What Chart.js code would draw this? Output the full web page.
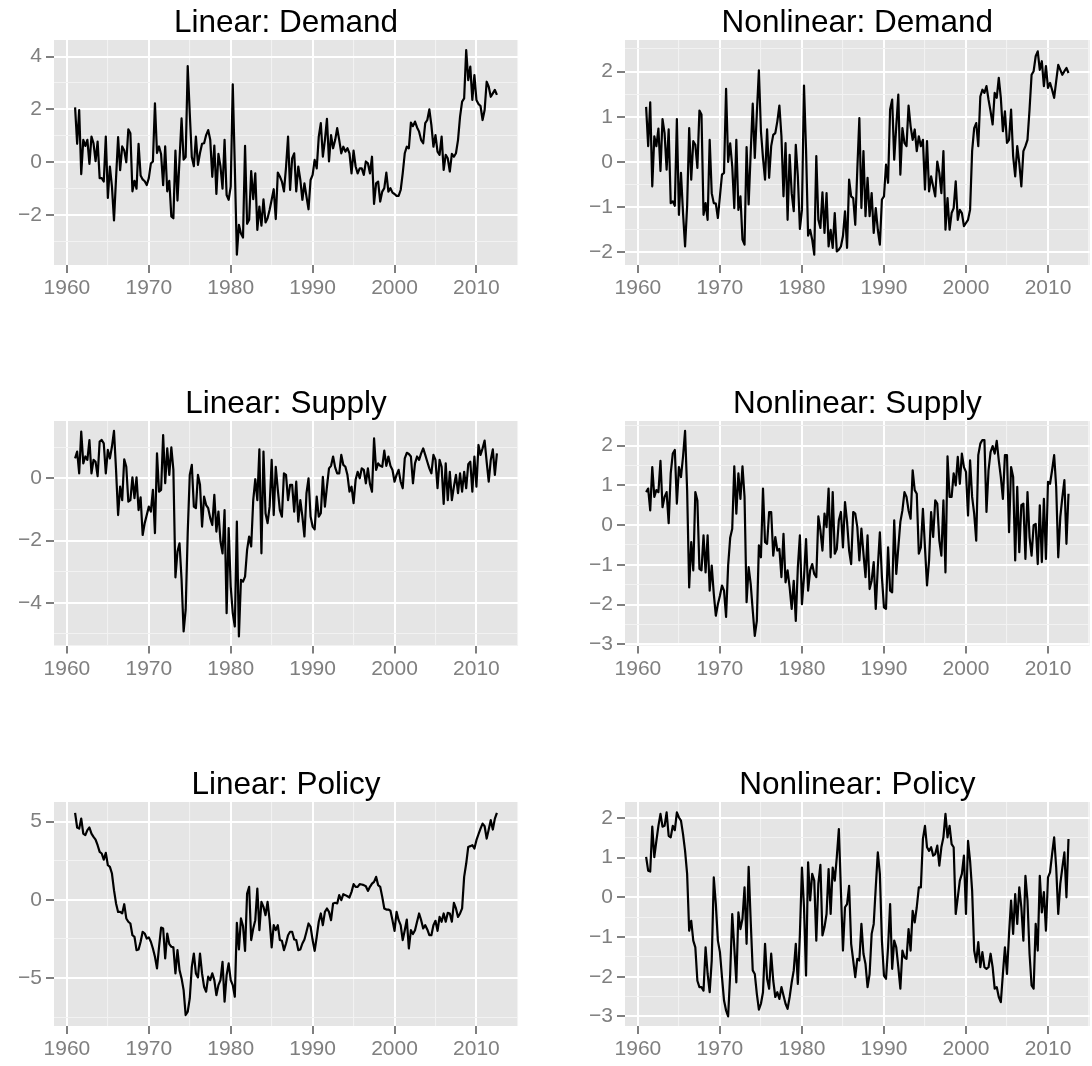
<!DOCTYPE html>
<html>
<head>
<meta charset="utf-8">
<script src="https://cdn.jsdelivr.net/npm/chart.js@4.4.1/dist/chart.umd.min.js"></script>
<style>
  html, body { margin: 0; padding: 0; background: #ffffff; }
  body { width: 1092px; height: 1066px; position: relative; overflow: hidden; }
  canvas { position: absolute; }
</style>
</head>
<body>
<script>
// Quarterly shock series, first observation 1961Q1.
const FIRST_YEAR = 1961;

const linearDemand = [
  2.08, 0.7, 1.98, -0.45, 0.85, 0.62, 0.85, -0.06, 0.97, 0.72,
  0.04, 0.78, -0.6, -0.6, -0.73, 0.97, -1.35, -0.16, -0.92, -2.2,
  -0.6, 0.95, -0.3, 0.6, 0.45, 0.0, 1.25, 1.1, -1.1, -0.7,
  -1.0, 0.7, -0.5, -0.65, -0.72, -0.86, -0.6, -0.05, 0.03, 2.23,
  0.35, 0.6, 0.3, -0.87, 0.6, -1.1, -0.7, -2.05, -2.12, 0.44,
  -1.45, 0.1, 1.66, 0.1, 0.2, 3.64, 1.85, 0.2, -0.15, 0.97,
  -0.1, 0.35, 0.7, 0.72, 1.03, 1.22, 0.85, -0.55, 0.63, -1.2,
  0.32, -0.16, -1.0, 0.85, -1.24, -1.42, -0.92, 2.95, -0.16, -3.5,
  -2.37, -2.7, -2.85, 0.62, -2.33, -2.18, -0.33, -1.4, -0.42, -2.56,
  -1.68, -2.4, -1.4, -2.28, -2.12, -1.8, -1.42, -1.02, -2.15, -0.39,
  -0.54, -0.73, -1.1, -0.2, 0.97,
  -1.05, 0.15, 0.34, -1.1, -0.16, -0.67, -1.42, -0.8, -1.3, -1.78,
  -0.67, -0.48, 0.09, -0.23, 0.97, 1.48, 0.21, 0.84, 1.64, 0.03,
  1.03, 0.53, 0.84, 1.29, 0.84, 0.34, 0.59, 0.4, 0.53, 0.34,
  -0.42, 0.44, -0.16, -0.42, -0.23, -0.23, -0.48, 0.03, -0.04, -0.42,
  0.21, -1.58, -0.8, -0.73, -1.49, -1.11, -0.98, -0.39, -1.11, -0.98,
  -1.15, -1.2, -1.27, -1.27, -1.05, -0.42, 0.34, 0.59, 0.53, 1.5,
  1.37, 1.54, 1.32, 1.16, 0.84, 0.72, 1.48, 1.6, 2.0, 1.41,
  0.59, 1.03, 0.4, 0.28, 0.97, -0.29, 0.28, 0.15, -0.35, 0.32,
  0.21, 0.34, 0.84, 1.73, 2.3, 2.42, 4.25, 3.11, 3.62, 2.36,
  3.3, 2.36, 2.21, 2.13, 1.6, 1.98, 3.05, 2.86, 2.48, 2.61,
  2.74, 2.55
];

const nonlinearDemand = [
  1.22, 0.35, 1.32, -0.54, 0.57, 0.35, 0.74, -0.2, 0.95, 0.64,
  -0.17, 0.72, -0.91, -0.87, -0.97, 0.95, -1.17, -0.24, -1.13, -1.87,
  -0.98, 0.75, -0.39, 0.46, 0.38, -0.13, 1.14, 1.05, -1.17, -0.91,
  -1.28, 0.49, -0.69, -0.91, -0.92, -1.24, -0.76, -0.28, -0.24, 1.62,
  0.0, 0.41, -0.1, -1.02, 0.49, -1.06, -0.76, -1.72, -1.83, 0.33,
  -0.94, 0.2, 1.29, 0.09, 1.08, 2.03, 0.68, 0.09, -0.39, 0.72,
  -0.35, 0.35, 0.6, 0.64, 0.9, 1.25, 0.57, -0.76, 0.42, -1.28,
  0.16, -0.69, -1.09, 0.38, -0.32, -1.48, -1.06, 1.69, 0.27, -1.63,
  -1.5, -1.72, -2.05, 0.13, -1.28, -1.46, -0.67, -1.57, -0.69, -1.87,
  -1.5, -1.9, -1.13, -1.98, -1.94,
  -1.87, -1.64, -1.09, -1.9, -0.39, -0.76, -0.8, -1.39, -0.17, 0.97,
  -1.02, 0.24, -1.2, -0.35, -1.2, -0.69, -1.57, -1.02, -1.5, -1.83,
  -0.83, -0.76, -0.06, -0.46, 1.16, 1.38, 0.05, 0.79, 1.49, -0.28,
  0.75, 0.42, 0.35, 1.25, 0.79, 0.49, 0.72, 0.24, 0.57, 0.35,
  0.49, -0.61, 0.46, -0.65, -0.32, -0.54, -0.76, 0.01, -0.24, -0.69,
  0.24, -1.5, -0.8, -1.5, -1.13, -1.02, -0.43, -1.28, -1.06, -1.13,
  -1.42, -1.35, -1.28, -1.06, 0.24, 0.75, 0.86, 0.35, 1.45, 1.6,
  1.53, 1.68, 1.38, 1.12, 0.83, 1.53, 1.42, 1.86, 1.42, 0.68,
  1.12, 0.42, 0.49, 1.16, 0.13, -0.32, 0.35, -0.02, -0.54, 0.24,
  0.35, 0.49, 1.16, 1.93, 2.01, 2.34, 2.45, 2.04, 2.23, 1.68,
  2.12, 1.64, 1.75, 1.6, 1.42, 1.79, 2.15, 2.04, 1.93, 2.01,
  2.08, 1.97
];

const linearSupply = [
  0.64, 0.86, 0.16, 1.5, 0.48, 0.7, 0.59, 1.23, 0.16, 0.59,
  0.53, 0.07, 1.18, 1.23, 1.12, 0.16, 0.91, 0.64, 1.02, 1.52,
  0.27, -1.18, -0.27, -0.7, 0.61, 0.37, -0.75, -0.7, 0.03, -0.64,
  0.03, -1.02, -0.61, -1.82, -1.44, -1.18, -0.91, -1.07, -0.37, -1.76,
  0.8, -0.43, -0.37, 1.39, -0.16, 0.96, 0.11, 0.99, 0.27, -3.18,
  -2.35, -2.09, -3.26, -4.92, -4.22, -1.76, 0.11, 0.43, -0.91, -0.96,
  0.11, -0.21, -1.55, -0.59, -0.86, -0.96, -1.28, -1.5, -0.53, -1.71,
  -1.07, -2.03, -2.41, -1.02, -4.33, -1.6, -3.48, -4.33, -4.76, -1.39,
  -5.08, -3.26, -3.32, -3.16, -2.3, -1.87, -2.19, -0.7, -0.03, -0.7,
  0.93, -2.41, 0.86, -1.12, -1.44, -0.91, 0.59, -1.18, 0.37, -0.37,
  -1.02, -1.23, 0.16, 0.11, -0.7, -0.21,
  -0.21, -1.07, -0.11, -1.39, -0.7, -1.23, -1.87, -0.48, 0.0, -1.23,
  -1.55, -1.64, -0.59, -1.23, -1.12, 0.05, -0.91, -0.27, 0.32, 0.4,
  0.7, 0.35, 0.16, 0.16, 0.75, 0.43, 0.37, 0.11, -0.43, -0.27,
  -0.8, -0.05, 0.21, 0.0, 0.32, 0.27, -0.16, 0.32, -0.18, -0.43,
  1.28, 0.27, 0.48, 0.4, 0.37, 0.89, 0.4, 0.7, 0.4, 0.27,
  -0.11, 0.11, 0.27, -0.11, -0.32, 0.64, 0.82, 0.78, 0.7, -0.16,
  0.48, 0.7, 0.59, 0.8, 0.96, 0.75, 0.53, 0.32, 0.16, 0.75,
  0.59, -0.32, 0.59, 0.37, -0.82, 0.48, -0.7, 0.21, -0.7, -0.27,
  0.11, -0.48, 0.16, -0.43, 0.21, -0.32, 0.45, 0.53, -0.43, 0.7,
  -0.27, 1.07, 0.75, 0.96, 1.21, 0.53, -0.11, 0.59, 0.93, 0.11,
  0.8
];

const nonlinearSupply = [
  0.83, 0.92, 0.37, 1.46, 0.71, 0.88, 0.83, 1.62, 0.45, 0.71,
  0.83, 0.05, 1.3, 1.8, 1.89, 0.54, 1.46, 1.21, 1.72, 2.37,
  0.88, -1.57, -0.43, -1.14, 0.83, 0.62, -1.1, -1.14, -0.26, -1.19,
  -0.26, -1.65, -1.02, -1.73, -2.28, -1.99, -1.78, -1.52, -1.65, -2.31,
  -1.02, -0.32, -0.09, 1.48, 0.29, 1.3, 0.66, 1.48, 0.71, -1.94,
  -1.06, -1.48, -2.15, -2.79, -2.41, -0.51, -0.81, 0.92, -0.43, -0.47,
  0.33, 0.33, -0.77, -0.3, -0.64, -0.6, -1.31, -0.22, -1.44, -1.14,
  -1.57, -2.11, -1.4, -2.41, -1.06, -0.26, -1.99, -1.31, -0.35, -1.65,
  -1.14, -0.98, -1.23, -1.31, 0.22, -0.13, -0.64, 0.29, -0.05, 0.92,
  -0.81, 0.83, -0.72, -0.6, 0.12,
  0.33, -0.56, 0.58, 0.08, -0.64, -0.98, 0.33, 0.29, -0.05, -0.89,
  -0.09, -0.72, -1.31, -0.26, -1.61, -1.4, -0.93, -2.11, -1.06, -0.18,
  -1.31, -2.07, -2.11, -0.56, -1.65, -1.69, 0.12, -1.23, -0.56, 0.08,
  0.37, 0.83, 0.71, 0.37, 0.16, 1.38, 0.88, 0.79, -0.72, -0.56,
  0.41, -0.56, -1.52, -0.89, 0.33, -0.3, 0.62, 0.54, -0.39, -0.77,
  0.62, -1.19, 1.73, 0.71, 0.71, 1.3, 1.0, 1.72, 1.04, 1.8,
  1.46, 1.34, 0.24, 1.63, 0.71, 0.29, -0.39, 1.76, 2.05, 2.14,
  2.14, 0.33, 1.38, 1.84, 1.99, 1.8, 2.12, 1.63, 1.21, 0.66,
  1.76, 1.76, -0.18, 1.46, 1.21, -0.89, 0.96, -0.68, 0.5, 0.54,
  -0.85, 0.83, -0.3, -0.77, 0.0, 0.03, -0.98, 0.5, -0.93, 0.66,
  -0.85, 1.09, 1.04, 1.38, 1.76, 0.96, -0.81, 0.2, 0.7, 1.13,
  -0.47, 0.79
];

const linearPolicy = [
  5.55, 4.62, 4.55, 5.19, 4.23, 4.13, 4.45, 4.62, 4.23, 4.02,
  3.85, 3.49, 3.06, 2.96, 2.57, 3.0, 2.21, 2.11, 1.68, 0.62,
  -0.23, -0.77, -0.77, -0.87, -0.28, -1.19, -1.4, -1.51, -2.26, -2.36,
  -3.21, -3.17, -2.68, -2.04, -2.15, -2.47, -2.4, -2.68, -3.11, -3.64,
  -4.38, -3.0, -1.77, -1.83, -3.74, -2.15, -2.83, -3.0, -3.04, -4.7,
  -3.21, -4.49, -5.02, -5.77, -7.36, -7.15, -6.3, -4.28, -3.43, -4.7,
  -4.96, -3.43, -4.7, -5.55, -5.87, -4.91, -5.13, -4.7, -5.13, -6.09,
  -5.45, -5.13, -3.96, -6.51, -4.81, -4.06, -5.13, -5.45, -6.19, -1.47,
  -3.17, -1.19, -1.68, -3.26, 0.4, 0.83, -2.57, -1.83, -1.3, 0.72,
  -1.94, -0.13, -0.45, -0.98, -0.13, -1.3, -3.04, -1.62, -1.94, -1.62,
  -2.57, -2.62, -3.21, -2.79, -2.26, -2.04,
  -2.04, -2.53, -2.57, -3.21, -3.17, -2.79, -2.53, -2.04, -1.51, -1.72,
  -2.57, -3.26, -2.36, -1.4, -0.87, -1.62, -0.77, -0.55, -0.77, -1.3,
  -0.23, -0.19, -0.23, 0.3, -0.02, 0.36, 0.3, 0.23, 0.15, 0.51,
  1.0, 0.83, 0.83, 1.0, 0.98, 0.94, 0.87, 0.57, 0.83, 1.04,
  1.15, 1.47, 0.94, 0.83, 0.19, -0.55, -0.62, -0.62, -0.7, -1.3,
  -1.98, -0.77, -1.3, -1.62, -2.57, -1.94, -1.26, -3.11, -1.94, -2.19,
  -1.94, -1.4, -0.87, -1.3, -1.83, -1.62, -1.89, -2.26, -2.26, -1.62,
  -1.34, -1.98, -1.09, -1.4, -0.87, -1.4, -0.83, -0.87, -1.4, -0.19,
  -0.55, -1.09, -0.87, -0.55, 1.47, 2.32, 3.38, 3.43, 3.49, 3.28,
  3.81, 4.19, 4.55, 4.87, 4.7, 3.91, 4.49, 5.09, 4.49, 5.19,
  5.55
];

const nonlinearPolicy = [
  1.02, 0.67, 0.65, 1.78, 1.01, 1.42, 1.8, 2.1, 1.78, 1.8,
  2.14, 1.55, 1.51, 1.8, 1.69, 2.14, 2.01, 1.93, 1.59, 1.17,
  0.59, -0.84, -0.59, -1.09, -1.26, -2.1, -2.26, -2.26, -2.35, -1.26,
  -1.93, -2.39, -1.59, 0.5, -0.17, -1.09, -1.38, -2.01, -2.6, -2.85,
  -3.0, -1.93, -0.42, -1.26, -2.14, -0.38, -0.8, -0.54, 0.25, -1.17,
  0.77, -0.59, -1.84, -1.93, -2.43, -2.83, -2.68, -2.39, -1.17, -2.05,
  -2.3, -1.42, -2.1, -2.51, -2.39, -2.56, -2.26, -2.47, -2.68, -2.81,
  -2.51, -2.14, -1.84, -1.17, -2.18, -0.92, 0.75, -0.25, -1.97, 0.88,
  -0.08, 0.59, 0.42, -1.09, 0.34, 0.82, -0.96, -0.75, -0.42, 0.71,
  -0.42, 0.75, 0.42, 1.01, 1.72,
  0.17, -1.34, -0.25, -0.17, 0.29, -1.17, -1.59, -2.01, -1.55, -1.59,
  -0.67, -1.42, -1.68, -2.26, -1.93, -0.92, -0.67, 0.25, 1.13, 0.59,
  -1.09, -1.97, -2.05, -1.26, -0.17, -1.8, -1.09, -1.26, -1.76, -2.3,
  -1.34, -1.51, -1.55, -0.8, -1.34, -0.34, -0.63, -0.25, 0.25, 0.25,
  1.47, 1.8, 1.26, 1.17, 1.26, 1.05, 1.09, 1.3, 0.8, 1.26,
  1.51, 2.1, 1.51, 1.8, 1.34, 1.26, -0.42, 0.0, 0.42, 0.59,
  1.05, -0.42, 1.42, 0.92, 0.17, -1.34, -1.63, -1.13, -1.76, -1.38,
  -1.76, -1.8, -1.76, -1.42, -1.76, -2.3, -2.26, -2.51, -2.64, -1.93,
  -1.26, -1.93, -0.92, -0.08, -0.92, 0.08, -0.67, 0.25, -0.25, -1.09,
  0.54, -0.08, -1.42, -2.22, -2.3, -0.67, -1.34, 0.54, -0.38, 0.13,
  -0.84, 0.5, 0.63, 1.09, 1.51, 0.75, -0.42, 0.34, 0.75, 1.13,
  0.0, 1.47
];

// Axis breaks (labelled) and the in-between minor grid lines.
const yearTicks = [1960, 1970, 1980, 1990, 2000, 2010];
const yearMinor = [1965, 1975, 1985, 1995, 2005, 2015];
const yearRange = [1958.425, 2015.075];

const panels = [
  { title: 'Linear: Demand',     values: linearDemand,     row: 0, col: 0,
    yRange: [-3.89, 4.63], yTicks: [-2, 0, 2, 4],          yMinor: [-3, -1, 1, 3] },
  { title: 'Nonlinear: Demand',  values: nonlinearDemand,  row: 0, col: 1,
    yRange: [-2.28, 2.70], yTicks: [-2, -1, 0, 1, 2],      yMinor: [-1.5, -0.5, 0.5, 1.5, 2.5] },
  { title: 'Linear: Supply',     values: linearSupply,     row: 1, col: 0,
    yRange: [-5.37, 1.84], yTicks: [-4, -2, 0],            yMinor: [-5, -3, -1, 1] },
  { title: 'Nonlinear: Supply',  values: nonlinearSupply,  row: 1, col: 1,
    yRange: [-3.03, 2.62], yTicks: [-3, -2, -1, 0, 1, 2],  yMinor: [-2.5, -1.5, -0.5, 0.5, 1.5, 2.5] },
  { title: 'Linear: Policy',     values: linearPolicy,     row: 2, col: 0,
    yRange: [-8.06, 6.25], yTicks: [-5, 0, 5],             yMinor: [-7.5, -2.5, 2.5] },
  { title: 'Nonlinear: Policy',  values: nonlinearPolicy,  row: 2, col: 1,
    yRange: [-3.24, 2.40], yTicks: [-3, -2, -1, 0, 1, 2],  yMinor: [-2.5, -1.5, -0.5, 0.5, 1.5] }
];

// Page geometry: plotting panels and the canvases that hold them.
const panelCols = [{ left: 54, right: 518 }, { left: 625, right: 1090 }];
const panelRows = [{ top: 40, bottom: 265 }, { top: 421, bottom: 645.5 }, { top: 802, bottom: 1026 }];
const canvasCols = [{ x: 0, w: 560 }, { x: 566, w: 526 }];
const canvasRows = [{ y: 0, h: 330 }, { y: 360, h: 345 }, { y: 745, h: 321 }];
const Y_AXIS_W = 54;
const X_AXIS_H = 36;

const FONT = "'Liberation Sans', Arial, Helvetica, sans-serif";
const PANEL_BG = '#E5E5E5';
const MAJOR_GRID = '#FFFFFF';
const MINOR_GRID = '#F2F2F2';
const AXIS_GREY = '#7F7F7F';

const panelBackground = {
  id: 'panelBackground',
  beforeDraw(chart) {
    const { ctx, chartArea: a } = chart;
    ctx.save();
    ctx.fillStyle = PANEL_BG;
    ctx.fillRect(a.left, a.top, a.right - a.left, a.bottom - a.top);
    ctx.restore();
  }
};

const panelTitle = {
  id: 'panelTitle',
  afterDraw(chart, args, opts) {
    const { ctx, chartArea: a } = chart;
    ctx.save();
    ctx.font = '31.5px ' + FONT;
    ctx.fillStyle = '#000000';
    ctx.textAlign = 'center';
    ctx.textBaseline = 'alphabetic';
    ctx.fillText(opts.text, (a.left + a.right) / 2, a.top - 8.5);
    ctx.restore();
  }
};

function formatTick(v) {
  return v < 0 ? '\u2212' + Math.abs(v) : String(v);
}

function axisOptions(range, major, minor, isX) {
  const majorSet = new Set(major);
  const all = [...major, ...minor].filter(v => v >= range[0] && v <= range[1]).sort((a, b) => a - b);
  const isMajor = ctx => ctx.tick && majorSet.has(ctx.tick.value);
  return {
    type: 'linear',
    position: isX ? 'bottom' : 'left',
    min: range[0],
    max: range[1],
    bounds: 'data',
    afterBuildTicks(scale) {
      scale.ticks = all.map(v => ({ value: v }));
    },
    afterFit(scale) {
      if (isX) scale.height = X_AXIS_H; else scale.width = Y_AXIS_W;
    },
    border: { display: false },
    grid: {
      drawOnChartArea: true,
      drawTicks: true,
      tickLength: 8,
      color: ctx => isMajor(ctx) ? MAJOR_GRID : MINOR_GRID,
      lineWidth: ctx => isMajor(ctx) ? 2 : 1.1,
      tickColor: ctx => isMajor(ctx) ? AXIS_GREY : 'rgba(0,0,0,0)',
      tickWidth: 2
    },
    ticks: {
      autoSkip: false,
      maxRotation: 0,
      minRotation: 0,
      padding: isX ? 3 : 4,
      color: AXIS_GREY,
      font: { family: FONT, size: 21 },
      callback: v => majorSet.has(v) ? formatTick(v) : ''
    }
  };
}

panels.forEach(p => {
  const cc = canvasCols[p.col];
  const cr = canvasRows[p.row];
  const pc = panelCols[p.col];
  const pr = panelRows[p.row];

  const canvas = document.createElement('canvas');
  canvas.width = cc.w;
  canvas.height = cr.h;
  canvas.style.left = cc.x + 'px';
  canvas.style.top = cr.y + 'px';
  canvas.style.width = cc.w + 'px';
  canvas.style.height = cr.h + 'px';
  document.body.appendChild(canvas);

  const points = p.values.map((v, i) => ({ x: FIRST_YEAR + i / 4, y: v }));

  new Chart(canvas, {
    type: 'line',
    data: {
      datasets: [{
        data: points,
        borderColor: '#000000',
        borderWidth: 2.2,
        borderJoinStyle: 'round',
        pointRadius: 0,
        pointHoverRadius: 0,
        tension: 0,
        fill: false
      }]
    },
    options: {
      responsive: false,
      devicePixelRatio: 1,
      animation: false,
      events: [],
      layout: {
        autoPadding: false,
        padding: {
          left: pc.left - cc.x - Y_AXIS_W,
          top: pr.top - cr.y,
          right: cc.x + cc.w - pc.right,
          bottom: cr.y + cr.h - pr.bottom - X_AXIS_H
        }
      },
      scales: {
        x: axisOptions(yearRange, yearTicks, yearMinor, true),
        y: axisOptions(p.yRange, p.yTicks, p.yMinor, false)
      },
      plugins: {
        legend: { display: false },
        tooltip: { enabled: false },
        title: { display: false },
        panelTitle: { text: p.title }
      }
    },
    plugins: [panelBackground, panelTitle]
  });
});
</script>
</body>
</html>
